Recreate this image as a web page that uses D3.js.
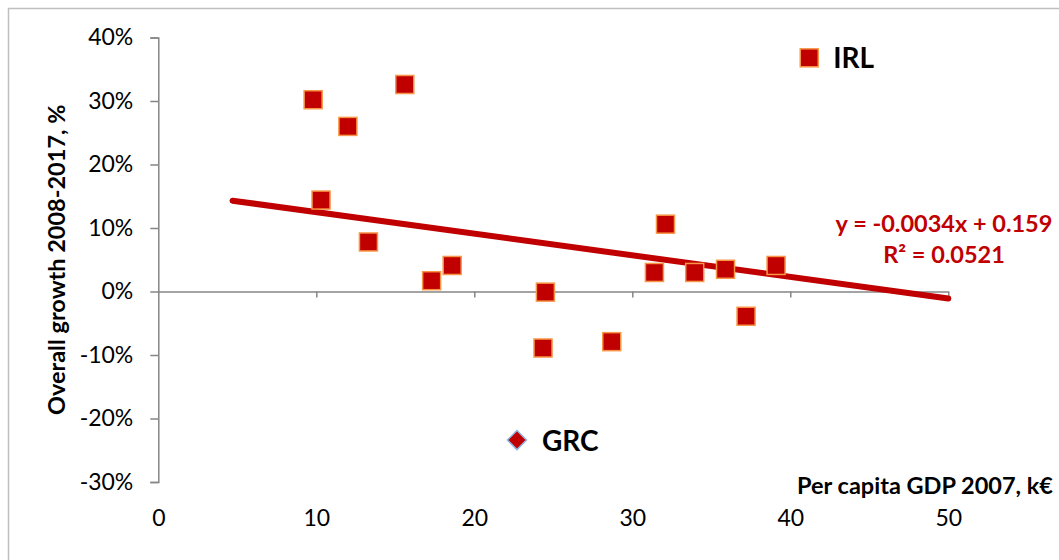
<!DOCTYPE html>
<html>
<head>
<meta charset="utf-8">
<script src="https://cdn.jsdelivr.net/npm/d3@7"></script>
<style>
  body { margin: 0; background: #fff; }
  svg { display: block; font-family: Lato, "Open Sans", sans-serif; }
</style>
</head>
<body>
<script>
let width = 1059
let height = 560

// per capita GDP 2007 (k€) and overall growth 2008-2017
const gdp = [9.8, 10.3, 12.0, 13.3, 15.6, 17.3, 18.6, 24.5, 24.35, 28.7, 31.4, 32.1, 33.95, 35.9, 37.2, 39.1]
const growth = [0.302, 0.144, 0.26, 0.078, 0.326, 0.017, 0.041, -0.001, -0.089, -0.079, 0.030, 0.106, 0.030, 0.035, -0.039, 0.041]

const irl = { name: "IRL", gdp: 41.2, growth: 0.368 }
const grc = { name: "GRC", gdp: 22.7, growth: -0.234 }

const trendSlope = -0.0034
const trendIntercept = 0.159
const trendR2 = 0.0521
const trendRange = [4.7, 50]

const xTicks = [0, 10, 20, 30, 40, 50]
const yTicks = [-0.3, -0.2, -0.1, 0, 0.1, 0.2, 0.3, 0.4]

const red = "#c00000"

const x = d3.scaleLinear().domain([0, 50]).range([158.3, 948.3])
const y = d3.scaleLinear().domain([-0.3, 0.4]).range([482, 37.5])

const svg = d3.select("body").append("svg")
    .attr("width", width)
    .attr("height", height)

// chart frame
svg.append("rect")
    .attr("x", 8.5).attr("y", 8.5)
    .attr("width", 1100).attr("height", 600)
    .attr("fill", "none")
    .attr("stroke", "#bfbfbf")
    .attr("stroke-width", 1.5)

// y axis
const gy = svg.append("g")
    .attr("transform", `translate(${x(0)},0)`)
    .call(d3.axisLeft(y).tickValues(yTicks).tickSize(8).tickPadding(17)
        .tickFormat(d => Math.round(d * 100) + "%"))
gy.selectAll("path, line").attr("stroke", "#868686").attr("stroke-width", 1.5)
gy.selectAll("text").attr("font-size", 23).attr("fill", "#000").attr("font-family", "Lato, sans-serif")

// x axis line at y = 0
const gx = svg.append("g")
    .attr("transform", `translate(0,${y(0)})`)
    .call(d3.axisBottom(x).tickValues(xTicks.filter(d => d > 0)).tickSize(6).tickSizeOuter(0).tickFormat(""))
gx.selectAll("path, line").attr("stroke", "#868686").attr("stroke-width", 1.5)

// x tick labels at the bottom
const gxl = svg.append("g")
    .attr("transform", `translate(0,${y(-0.3) + 25})`)
    .call(d3.axisBottom(x).tickValues(xTicks).tickSize(0))
gxl.select(".domain").remove()
gxl.selectAll("text").attr("font-size", 23).attr("fill", "#000").attr("font-family", "Lato, sans-serif")

// axis titles
svg.append("text")
    .attr("transform", `translate(65,${y(0.05)}) rotate(-90)`)
    .attr("text-anchor", "middle")
    .attr("font-size", 23.5)
    .attr("font-weight", "bold")
    .text("Overall growth 2008-2017, %")

svg.append("text")
    .attr("x", 1053).attr("y", 494)
    .attr("text-anchor", "end")
    .attr("font-size", 23.5)
    .attr("font-weight", "bold")
    .text("Per capita GDP 2007, k€")

// trend line
svg.append("line")
    .attr("x1", x(trendRange[0])).attr("y1", y(trendSlope * trendRange[0] + trendIntercept))
    .attr("x2", x(trendRange[1])).attr("y2", y(trendSlope * trendRange[1] + trendIntercept))
    .attr("stroke", red)
    .attr("stroke-width", 6)
    .attr("stroke-linecap", "round")

// points
const pts = gdp.map((g, i) => ({ gdp: g, growth: growth[i] })).concat([irl])
const sq = 18
svg.append("g")
    .selectAll("rect")
    .data(pts)
    .join("rect")
    .attr("x", d => x(d.gdp) - sq / 2)
    .attr("y", d => y(d.growth) - sq / 2)
    .attr("width", sq).attr("height", sq)
    .attr("fill", red)
    .attr("stroke", "#f79646")
    .attr("stroke-width", 1.5)

// GRC diamond
svg.append("path")
    .attr("d", d3.symbol(d3.symbolDiamond2, 230)())
    .attr("transform", `translate(${x(grc.gdp)},${y(grc.growth)})`)
    .attr("fill", red)
    .attr("stroke", "#8db3e2")
    .attr("stroke-width", 1.5)

// labels
svg.append("text")
    .attr("x", x(irl.gdp) + 24).attr("y", y(irl.growth) + 10)
    .attr("font-size", 28).attr("font-weight", "bold")
    .text(irl.name)

svg.append("text")
    .attr("x", x(grc.gdp) + 25).attr("y", y(grc.growth) + 11)
    .attr("font-size", 28).attr("font-weight", "bold")
    .text(grc.name)

// equation
const eq = svg.append("g").attr("fill", red).attr("font-weight", "bold").attr("font-size", 23.5)
eq.append("text")
    .attr("x", 944).attr("y", 232)
    .attr("text-anchor", "middle")
    .text(`y = ${trendSlope}x + ${trendIntercept}`)
eq.append("text")
    .attr("x", 944).attr("y", 263)
    .attr("text-anchor", "middle")
    .text(`R² = ${trendR2}`)
</script>
</body>
</html>
